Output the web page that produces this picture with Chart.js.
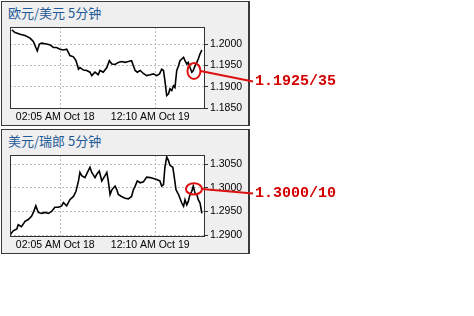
<!DOCTYPE html>
<html>
<head>
<meta charset="utf-8">
<script src="https://cdn.jsdelivr.net/npm/chart.js@4.4.0/dist/chart.umd.min.js"></script>
<style>
body { margin: 0; background: #fff; width: 474px; height: 316px; overflow: hidden; position: relative; }
.panel { position: absolute; left: 1px; width: 249px; height: 125px; box-sizing: border-box; border: 1px solid #3a3a3a; border-right-width: 2px; background: #efefef; }
.panel .title { position: absolute; left: 6px; top: 2px; font: 13px "Noto Sans CJK SC", sans-serif; line-height: 18px; color: #1f5b98; }
canvas { position: absolute; left: 0; }
.quote { position: absolute; left: 255px; font: bold 15px "Liberation Mono", monospace; line-height: 15px; color: #d40000; }
</style>
</head>
<body>
<div class="panel" style="top:1px"><div class="title">欧元/美元 5分钟</div></div>
<div class="panel" style="top:129px"><div class="title">美元/瑞郎 5分钟</div></div>
<canvas id="eur" width="474" height="125" style="top:1px"></canvas>
<canvas id="chf" width="474" height="125" style="top:129px"></canvas>
<div class="quote" style="top:74px">1.1925/35</div>
<div class="quote" style="top:186px">1.3000/10</div>
<script>
// x = 5-minute bar number from the left edge of the plot
var xTickVals = [140, 405];
var xTickLabels = ['02:05 AM Oct 18', '12:10 AM Oct 19'];

var eurBars = [5, 14, 28, 42, 56, 65, 72, 76, 82, 88, 102, 112, 121, 130, 139, 149, 158, 163, 167, 177,
  184, 191, 195, 205, 214, 223, 228, 237, 246, 251, 260, 270, 277, 284, 293, 302, 311, 321, 330, 339,
  344, 349, 355, 363, 372, 381, 391, 400, 409, 417, 423, 428, 432, 437, 442, 446, 451, 456, 460, 465,
  470, 474, 479, 484, 488, 493, 497, 502, 507, 511, 516, 521, 525, 530, 535];
var eurVals = [1.2033, 1.2027, 1.2023, 1.2020, 1.2014, 1.2006, 1.1992, 1.1984, 1.2000, 1.2002,
  1.2000, 1.1998, 1.1992, 1.1992, 1.1988, 1.1986, 1.1988, 1.1980, 1.1973, 1.1970,
  1.1961, 1.1941, 1.1945, 1.1939, 1.1938, 1.1934, 1.1926, 1.1934, 1.1928, 1.1938,
  1.1934, 1.1945, 1.1961, 1.1953, 1.1952, 1.1957, 1.1959, 1.1957, 1.1959, 1.1961,
  1.1949, 1.1938, 1.1934, 1.1938, 1.1931, 1.1926, 1.1928, 1.1930, 1.1926, 1.1930,
  1.1941, 1.1938, 1.1914, 1.1879, 1.1883, 1.1895, 1.1891, 1.1902, 1.1898, 1.1938,
  1.1949, 1.1961, 1.1965, 1.1969, 1.1961, 1.1953, 1.1957, 1.1945, 1.1934, 1.1938,
  1.1949, 1.1957, 1.1965, 1.1977, 1.1986];
var eurTicks = [1.1850, 1.1900, 1.1950, 1.2000];

var chfBars = [0, 9, 19, 23, 32, 42, 51, 60, 65, 72, 79, 88, 98, 107, 116, 125, 135, 144, 149, 158,
  167, 177, 184, 191, 195, 200, 209, 216, 223, 228, 237, 242, 249, 256, 265, 270, 274, 279, 284, 293,
  298, 302, 311, 321, 330, 339, 344, 349, 355, 363, 372, 381, 391, 400, 409, 418, 423, 428, 432, 437,
  442, 446, 454, 457, 463, 470, 474, 479, 484, 488, 493, 497, 502, 507, 511, 516, 521, 525, 530, 535];
var chfVals = [1.2900, 1.2909, 1.2913, 1.2922, 1.2918, 1.2929, 1.2933, 1.2940, 1.2948, 1.2962,
  1.2948, 1.2946, 1.2948, 1.2946, 1.2950, 1.2959, 1.2959, 1.2962, 1.2969, 1.2962,
  1.2975, 1.2982, 1.2993, 1.3015, 1.3033, 1.3026, 1.3022, 1.3033, 1.3044, 1.3033,
  1.3022, 1.3029, 1.3036, 1.3015, 1.3026, 1.3033, 1.3015, 1.2986, 1.2996, 1.3004,
  1.2996, 1.2986, 1.2982, 1.2978, 1.2977, 1.2982, 1.2996, 1.3004, 1.3015, 1.3011,
  1.3013, 1.3023, 1.3022, 1.3020, 1.3018, 1.3015, 1.3004, 1.3007, 1.3044, 1.3066,
  1.3058, 1.3048, 1.3044, 1.3029, 1.2996, 1.2986, 1.2978, 1.2968, 1.2961, 1.2975,
  1.2964, 1.2971, 1.2986, 1.2993, 1.3004, 1.2989, 1.2986, 1.2975, 1.2968, 1.2946];
var chfTicks = [1.2900, 1.2950, 1.3000, 1.3050];

// plot background, frame and the red circle + pointer line
var framePlugin = {
  id: 'frame',
  beforeDraw: function (chart) {
    var a = chart.chartArea, ctx = chart.ctx;
    ctx.save();
    ctx.fillStyle = '#fff';
    ctx.fillRect(a.left, a.top, a.right - a.left, a.bottom - a.top);
    ctx.restore();
  },
  afterDraw: function (chart, args, opts) {
    var a = chart.chartArea, ctx = chart.ctx;
    ctx.save();
    ctx.strokeStyle = '#333';
    ctx.lineWidth = 1;
    ctx.strokeRect(a.left + 0.5, a.top + 0.5, a.right - a.left, a.bottom - a.top);
    var cx = chart.scales.x.getPixelForValue(opts.markX);
    var cy = chart.scales.y.getPixelForValue(opts.markY);
    ctx.strokeStyle = '#dd1111';
    ctx.lineWidth = 2;
    ctx.beginPath();
    ctx.ellipse(cx, cy, opts.rx, opts.ry, 0, 0, Math.PI * 2);
    ctx.stroke();
    ctx.beginPath();
    ctx.moveTo(cx + opts.rx, cy);
    ctx.lineTo(opts.endX, opts.endY);
    ctx.stroke();
    ctx.restore();
  }
};

Chart.defaults.font.family = '"Liberation Sans", Arial, sans-serif';
Chart.defaults.font.size = 10.5;
Chart.defaults.color = '#000';

function makeChart(id, bars, vals, yMin, yMax, yTicks, mark) {
  var points = bars.map(function (b, i) { return { x: b, y: vals[i] }; });
  return new Chart(document.getElementById(id), {
    type: 'line',
    data: {
      datasets: [{
        data: points,
        borderColor: '#000',
        borderWidth: 1.6,
        pointRadius: 0,
        tension: 0
      }]
    },
    options: {
      responsive: false,
      animation: false,
      layout: { padding: { left: 10, top: 26, right: 224, bottom: 2 } },
      plugins: { legend: { display: false }, tooltip: { enabled: false }, frame: mark },
      scales: {
        x: {
          type: 'linear', min: 0, max: 541,
          afterBuildTicks: function (ax) { ax.ticks = xTickVals.map(function (v) { return { value: v }; }); },
          afterFit: function (ax) { ax.height = 16; },
          ticks: {
            padding: 3, maxRotation: 0, autoSkip: false, labelOffset: -5,
            callback: function (v) { return xTickLabels[xTickVals.indexOf(v)]; }
          },
          grid: { color: '#bdbdbd', drawTicks: false },
          border: { display: false, dash: [2, 2] }
        },
        y: {
          position: 'right', min: yMin, max: yMax,
          afterBuildTicks: function (ax) { ax.ticks = yTicks.map(function (v) { return { value: v }; }); },
          afterFit: function (ax) { ax.width = 46; },
          ticks: { padding: 2, callback: function (v) { return v.toFixed(4); } },
          grid: { color: '#bdbdbd', tickColor: '#333', tickLength: 4, tickBorderDash: [] },
          border: { display: false, dash: [2, 2] }
        }
      }
    },
    plugins: [framePlugin]
  });
}

window.onload = function () {
  makeChart('eur', eurBars, eurVals, 1.1850, 1.2040, eurTicks,
    { markX: 513, markY: 1.1937, rx: 6.5, ry: 8, endX: 253, endY: 80.5 });
  makeChart('chf', chfBars, chfVals, 1.2898, 1.3070, chfTicks,
    { markX: 513, markY: 1.2998, rx: 8, ry: 5.7, endX: 253, endY: 64.5 });
};
</script>
</body>
</html>
